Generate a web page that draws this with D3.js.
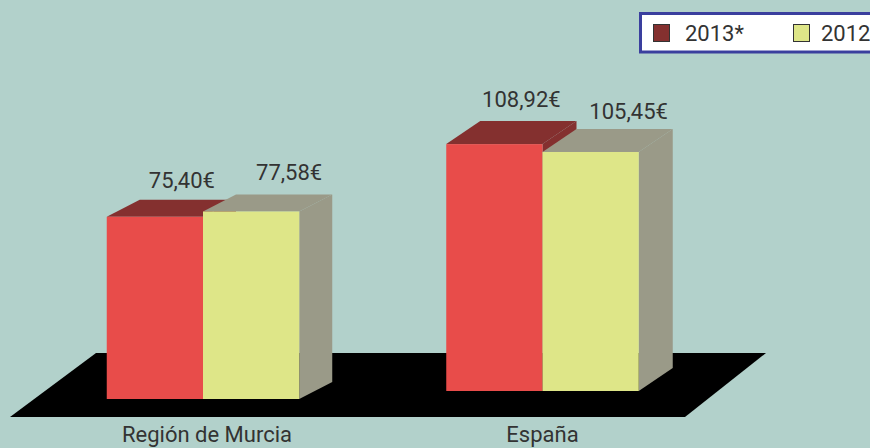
<!DOCTYPE html>
<html>
<head>
<meta charset="utf-8">
<script src="https://cdnjs.cloudflare.com/ajax/libs/d3/7.8.5/d3.min.js"></script>
<style>
  html, body { margin: 0; padding: 0; background: #b2d1cb; overflow: hidden; }
  svg { display: block; }
  text { font-family: Roboto, sans-serif; fill: #333; }
</style>
</head>
<body>
<svg id="chart" width="870" height="448"></svg>
<script>
// Values.
var regions = ['Región de Murcia', 'España'];
var years = ['2013*', '2012'];
var values2013 = [75.40, 108.92];
var values2012 = [77.58, 105.45];

var faceColors = { '2013*': '#e84c4a', '2012': '#dee688' };
var topColors = { '2013*': '#84302f', '2012': '#9a9a88' };
var swatchColors = { '2013*': '#84302f', '2012': '#dee688' };

// The original has a different perspective for each group, so each one
// gets its own baseline, pixels per euro and extrusion depth.
var groupLayout = [
  { baseline: 399, range: 290, depthX: 33, depthY: 17, labelGap: [12, 15] },
  { baseline: 391, range: 272, depthX: 34, depthY: 23, labelGap: [14, 9.5] }
];

// Labels are not centred on the bars, they lean to the right by year.
var labelShift = { '2013*': 27, '2012': 38 };

var svg = d3.select('#chart');

var x0 = d3.scaleBand().domain(regions).range([33.25, 712.25])
  .paddingInner(0.433).paddingOuter(0.2165);
var x1 = d3.scaleBand().domain(years).range([0, x0.bandwidth()]);

function yScale(i) {
  var g = groupLayout[i];
  return d3.scaleLinear().domain([0, 120]).range([g.baseline, g.baseline - g.range]);
}

function euro(v) {
  return v.toFixed(2).replace('.', ',') + '€';
}

var line = d3.line();

// The black floor under the bars.
svg.append('path')
  .attr('d', line([[10, 417], [96, 353], [766, 353], [685, 417]]) + 'Z')
  .attr('fill', '#000');

// Draw each group, 2013 first so the 2012 bar covers its side.
regions.forEach(function(region, i) {
  var g = groupLayout[i];
  var y = yScale(i);
  var rows = [
    { year: years[0], value: values2013[i] },
    { year: years[1], value: values2012[i] }
  ];

  rows.forEach(function(d) {
    var left = x0(region) + x1(d.year);
    var right = left + x1.bandwidth();
    var top = y(d.value);
    var bottom = y(0);

    // right side
    svg.append('path')
      .attr('d', line([[right, top], [right + g.depthX, top - g.depthY],
        [right + g.depthX, bottom - g.depthY], [right, bottom]]) + 'Z')
      .attr('fill', topColors[d.year]);

    // top
    svg.append('path')
      .attr('d', line([[left, top], [left + g.depthX, top - g.depthY],
        [right + g.depthX, top - g.depthY], [right, top]]) + 'Z')
      .attr('fill', topColors[d.year]);

    // front
    svg.append('rect')
      .attr('x', left)
      .attr('y', top)
      .attr('width', x1.bandwidth())
      .attr('height', bottom - top)
      .attr('fill', faceColors[d.year]);
  });
});

// Value labels sit above the back edge of each bar.
regions.forEach(function(region, i) {
  var g = groupLayout[i];
  var y = yScale(i);
  [values2013[i], values2012[i]].forEach(function(v, j) {
    svg.append('text')
      .attr('x', x0(region) + x1(years[j]) + x1.bandwidth() / 2 + labelShift[years[j]])
      .attr('y', y(v) - g.depthY - g.labelGap[j])
      .attr('text-anchor', 'middle')
      .attr('font-size', 22)
      .text(euro(v));
  });
});

// Category labels. The original clips the descenders at the bottom edge,
// these sit a little higher so they stay whole.
var axis = svg.append('g')
  .attr('transform', 'translate(0,423)')
  .call(d3.axisBottom(x0).tickSize(0));
axis.select('.domain').remove();
axis.selectAll('text')
  .attr('dx', function(d, i) { return i == 0 ? 4 : 0; })
  .style('font-family', 'Roboto, sans-serif')
  .style('font-size', '22px')
  .style('fill', '#333');

// Legend, runs off the right edge as in the original.
var legend = svg.append('g');
legend.append('rect')
  .attr('x', 640.5)
  .attr('y', 13.5)
  .attr('width', 240)
  .attr('height', 38.5)
  .attr('fill', '#fff')
  .attr('stroke', '#3a3f9e')
  .attr('stroke-width', 3);

var swatchX = d3.scalePoint().domain(years).range([653, 793]);
var legendTextX = d3.scalePoint().domain(years).range([685, 821]);
years.forEach(function(year) {
  legend.append('rect')
    .attr('x', swatchX(year) + 0.5)
    .attr('y', 24.5)
    .attr('width', 16)
    .attr('height', 17)
    .attr('fill', swatchColors[year])
    .attr('stroke', '#333');
  legend.append('text')
    .attr('x', legendTextX(year))
    .attr('y', 41)
    .attr('font-size', 22)
    .text(year);
});
</script>
</body>
</html>
